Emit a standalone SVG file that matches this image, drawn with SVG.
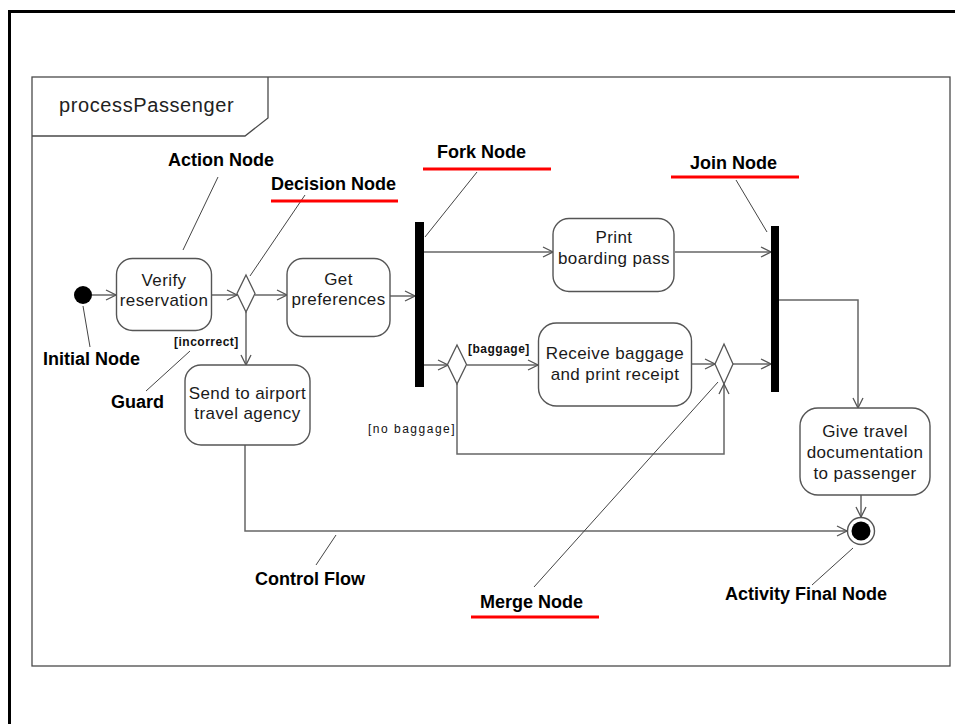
<svg xmlns="http://www.w3.org/2000/svg" width="955" height="724" viewBox="0 0 955 724">
  <style>
    .frame { fill: none; stroke: #4a4a4a; stroke-width: 1.3; }
    .action { fill: #ffffff; stroke: #555555; stroke-width: 1.4; }
    .bar { fill: #000000; }
    .diamond { fill: #ffffff; stroke: #555555; stroke-width: 1.3; }
    .flow { fill: none; stroke: #666666; stroke-width: 1.5; }
    .leader { fill: none; stroke: #444444; stroke-width: 1; }
    .underline { stroke: #ff0000; stroke-width: 3; }
    .ntext { font-family: "Liberation Sans", Arial, sans-serif; font-size: 17px; letter-spacing: 0.4px; fill: #1a1a1a; text-anchor: middle; }
    .title { font-family: "Liberation Sans", Arial, sans-serif; font-size: 20px; letter-spacing: 0.6px; fill: #222222; }
    .callout { font-family: "Liberation Sans", Arial, sans-serif; font-size: 18px; font-weight: bold; fill: #000000; }
    .guard { font-family: "Liberation Sans", Arial, sans-serif; font-size: 12px; fill: #111111; letter-spacing: 0.5px; }
  </style>
  <defs>
    <marker id="open" viewBox="0 0 12 12" refX="11" refY="6" markerWidth="12" markerHeight="12" markerUnits="userSpaceOnUse" orient="auto">
      <path d="M1,1 L11,6 L1,11" fill="none" stroke="#555555" stroke-width="1.3"/>
    </marker>
  </defs>

  <rect width="955" height="724" fill="#ffffff"/>
  <!-- outer border -->
  <path d="M9.5,724 V11.5 H955" fill="none" stroke="#000000" stroke-width="3"/>

  <!-- activity frame -->
  <g id="frame">
    <rect class="frame" x="32" y="77" width="918" height="589"/>
    <path class="frame" d="M32,136 H245 L268,118 V77"/>
    <text class="title" x="59" y="112">processPassenger</text>
  </g>

  <!-- control flows -->
  <g id="connectors">
    <line class="flow" x1="92" y1="295" x2="116" y2="295" marker-end="url(#open)"/>
    <line class="flow" x1="211" y1="295" x2="237" y2="295" marker-end="url(#open)"/>
    <line class="flow" x1="255" y1="295" x2="287" y2="295" marker-end="url(#open)"/>
    <line class="flow" x1="246" y1="312" x2="246" y2="365" marker-end="url(#open)"/>
    <line class="flow" x1="390" y1="296" x2="415" y2="296" marker-end="url(#open)"/>
    <line class="flow" x1="424" y1="252" x2="553" y2="252" marker-end="url(#open)"/>
    <line class="flow" x1="675" y1="252" x2="771" y2="252" marker-end="url(#open)"/>
    <line class="flow" x1="424" y1="365" x2="448" y2="365" marker-end="url(#open)"/>
    <line class="flow" x1="467" y1="365" x2="538" y2="365" marker-end="url(#open)"/>
    <line class="flow" x1="692" y1="364" x2="715" y2="364" marker-end="url(#open)"/>
    <line class="flow" x1="733" y1="364" x2="771" y2="364" marker-end="url(#open)"/>
    <polyline class="flow" points="457,384 457,454 724,454 724,384" marker-end="url(#open)"/>
    <polyline class="flow" points="779,300 858,300 858,408" marker-end="url(#open)"/>
    <line class="flow" x1="861" y1="495" x2="861" y2="517" marker-end="url(#open)"/>
    <polyline class="flow" points="245,445 245,531 847,531" marker-end="url(#open)"/>
  </g>

  <!-- nodes -->
  <g id="initial">
    <circle cx="83" cy="295" r="9" fill="#000000"/>
  </g>
  <g id="verify">
    <rect class="action" x="116.5" y="258.5" width="95" height="72" rx="16"/>
    <text class="ntext" x="164" y="286">Verify</text>
    <text class="ntext" x="164" y="306">reservation</text>
  </g>
  <g id="decision">
    <polygon class="diamond" points="246,275 255,293.5 246,312 237,293.5"/>
  </g>
  <g id="getPreferences">
    <rect class="action" x="287" y="258.5" width="103" height="78" rx="16"/>
    <text class="ntext" x="338.5" y="285">Get</text>
    <text class="ntext" x="338.5" y="305">preferences</text>
  </g>
  <g id="sendToAgency">
    <rect class="action" x="185" y="365" width="125" height="80" rx="16"/>
    <text class="ntext" x="247.5" y="399">Send to airport</text>
    <text class="ntext" x="247.5" y="419">travel agency</text>
  </g>
  <g id="fork">
    <rect class="bar" x="415" y="222" width="9" height="165"/>
  </g>
  <g id="printBoardingPass">
    <rect class="action" x="553" y="218.5" width="121" height="73" rx="16"/>
    <text class="ntext" x="614" y="243">Print</text>
    <text class="ntext" x="614" y="264">boarding pass</text>
  </g>
  <g id="baggageDecision">
    <polygon class="diamond" points="457,345 466.5,364.5 457,384 447.5,364.5"/>
  </g>
  <g id="receiveBaggage">
    <rect class="action" x="538.5" y="323" width="153" height="83" rx="18"/>
    <text class="ntext" x="615" y="359">Receive baggage</text>
    <text class="ntext" x="615" y="380">and print receipt</text>
  </g>
  <g id="merge">
    <polygon class="diamond" points="724,344 733,364 724,384 715,364"/>
  </g>
  <g id="join">
    <rect class="bar" x="771" y="226" width="8" height="166"/>
  </g>
  <g id="giveDocumentation">
    <rect class="action" x="800" y="408" width="130" height="87" rx="18"/>
    <text class="ntext" x="865" y="437">Give travel</text>
    <text class="ntext" x="865" y="458">documentation</text>
    <text class="ntext" x="865" y="479">to passenger</text>
  </g>
  <g id="final">
    <circle cx="861" cy="531" r="13.5" fill="#ffffff" stroke="#555555" stroke-width="1.4"/>
    <circle cx="861" cy="531" r="9.5" fill="#000000"/>
  </g>

  <!-- guards -->
  <g id="guards">
    <text class="guard" x="174" y="346" font-weight="bold">[incorrect]</text>
    <text class="guard" x="468" y="353" font-weight="bold">[baggage]</text>
    <text class="guard" x="368" y="433" style="letter-spacing:1.5px">[no baggage]</text>
  </g>

  <!-- callouts -->
  <g id="callouts">
    <line class="leader" x1="218" y1="177" x2="183" y2="250"/>
    <line class="leader" x1="305" y1="195" x2="250" y2="276"/>
    <line class="leader" x1="477" y1="172" x2="425" y2="237"/>
    <line class="leader" x1="736" y1="180" x2="767" y2="232"/>
    <line class="leader" x1="83" y1="306" x2="90" y2="347"/>
    <line class="leader" x1="190" y1="351" x2="146" y2="391"/>
    <line class="leader" x1="336" y1="535" x2="316" y2="565"/>
    <line class="leader" x1="534" y1="587" x2="718" y2="382"/>
    <line class="leader" x1="853" y1="548" x2="812" y2="585"/>

    <line class="underline" x1="271" y1="201" x2="398" y2="201"/>
    <line class="underline" x1="423" y1="169" x2="551" y2="169"/>
    <line class="underline" x1="671" y1="177" x2="799" y2="177"/>
    <line class="underline" x1="471" y1="617" x2="599" y2="617"/>

    <text class="callout" x="168" y="166">Action Node</text>
    <text class="callout" x="271" y="190">Decision Node</text>
    <text class="callout" x="437" y="158">Fork Node</text>
    <text class="callout" x="690" y="169">Join Node</text>
    <text class="callout" x="43" y="365">Initial Node</text>
    <text class="callout" x="111" y="408">Guard</text>
    <text class="callout" x="255" y="585">Control Flow</text>
    <text class="callout" x="480" y="608">Merge Node</text>
    <text class="callout" x="725" y="600">Activity Final Node</text>
  </g>
</svg>
